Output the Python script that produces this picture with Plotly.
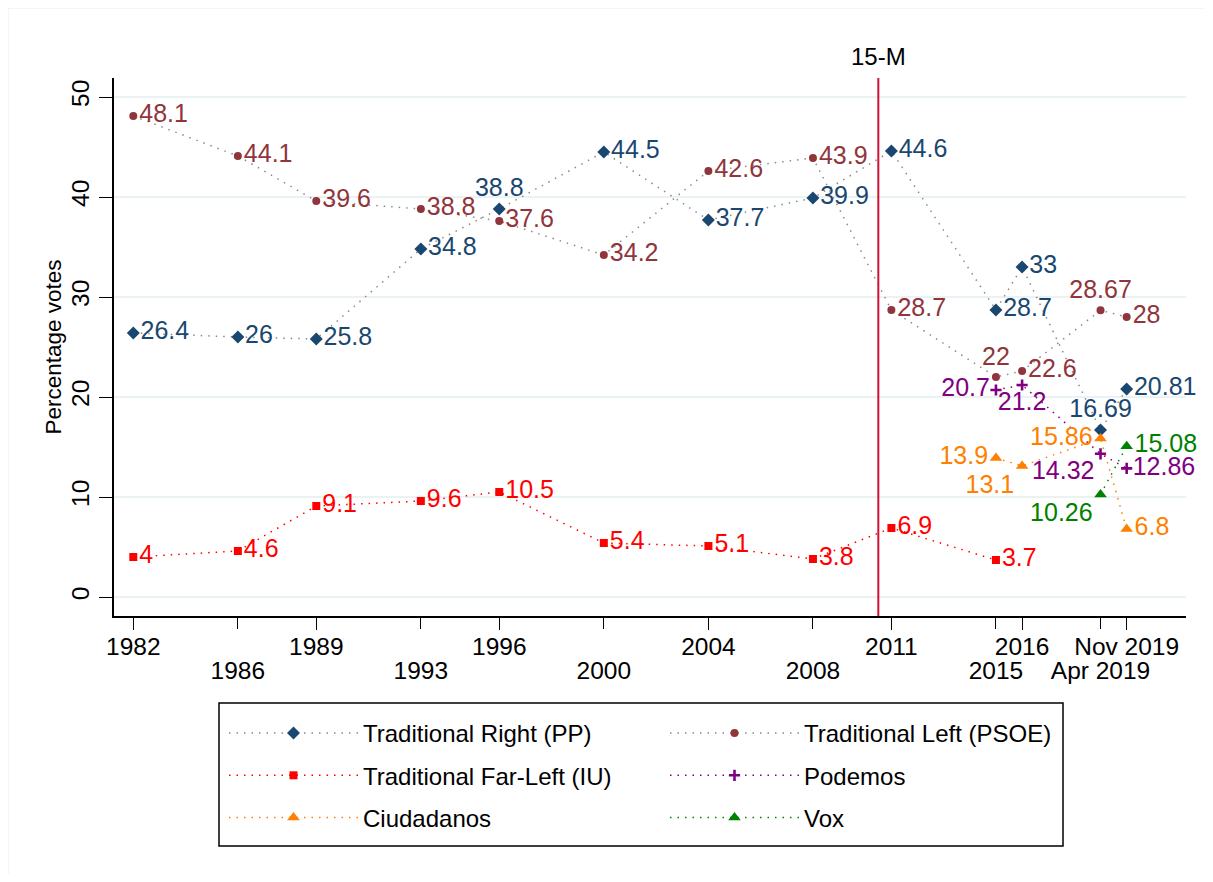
import plotly.graph_objects as go

# ---------------- data ----------------
years_all = [1982, 1986, 1989, 1993, 1996, 2000, 2004, 2008, 2011, 2015, 2016, 2019, 2020]
tick_upper_vals = [1982, 1989, 1996, 2004, 2011, 2016, 2020]
tick_upper_text = ["1982", "1989", "1996", "2004", "2011", "2016", "Nov 2019"]
tick_lower_vals = [1986, 1993, 2000, 2008, 2015, 2019]
tick_lower_text = ["1986", "1993", "2000", "2008", "2015", "Apr 2019"]

pp_years = years_all
pp_vals = [26.4, 26, 25.8, 34.8, 38.8, 44.5, 37.7, 39.9, 44.6, 28.7, 33, 16.69, 20.81]
pp_pos = ["middle right"] * 4 + ["top center"] + ["middle right"] * 6 + ["top center", "middle right"]

psoe_years = years_all
psoe_vals = [48.1, 44.1, 39.6, 38.8, 37.6, 34.2, 42.6, 43.9, 28.7, 22, 22.6, 28.67, 28]
psoe_pos = ["middle right"] * 9 + ["top center", "middle right", "top center", "middle right"]

iu_years = [1982, 1986, 1989, 1993, 1996, 2000, 2004, 2008, 2011, 2015]
iu_vals = [4, 4.6, 9.1, 9.6, 10.5, 5.4, 5.1, 3.8, 6.9, 3.7]
iu_pos = ["middle right"] * 10

pod_years = [2015, 2016, 2019, 2020]
pod_vals = [20.7, 21.2, 14.32, 12.86]
pod_pos = ["middle left", "bottom center", "bottom left", "middle right"]

cs_years = [2015, 2016, 2019, 2020]
cs_vals = [13.9, 13.1, 15.86, 6.8]
cs_pos = ["middle left", "bottom left", "middle left", "middle right"]

vox_years = [2019, 2020]
vox_vals = [10.26, 15.08]
vox_pos = ["bottom left", "middle right"]

event_x = 2010.5
event_label = "15-M"

# ---------------- style ----------------
FONT = "Liberation Sans, Arial, sans-serif"
C_PP = "#1a476f"
C_PSOE = "#90353b"
C_IU = "#ff0000"
C_POD = "#800080"
C_CS = "#ff7f00"
C_VOX = "#008000"
C_GREY = "#8a8a8a"
LBL = 25
TICK = 24.5
LEG = 24
DOT = "1.5px,6px"

XR = [1981.262, 2022.27]
YR = [-1.9, 51.9]

fig = go.Figure()


def add_series(name, xs, ys, pos, color, linecolor, symbol, size, legend, xaxis="x", mline=None):
    marker = dict(color=color, symbol=symbol, size=size)
    if mline:
        marker["line"] = mline
    fig.add_trace(go.Scatter(
        x=xs, y=ys, name=name, mode="lines+markers+text",
        text=[str(v) for v in ys], textposition=pos,
        textfont=dict(family=FONT, size=LBL, color=color),
        line=dict(color=linecolor, dash=DOT, width=1.5),
        marker=marker, legend=legend, legendgroup=name, xaxis=xaxis,
        cliponaxis=False,
    ))


add_series("Traditional Right (PP)", pp_years, pp_vals, pp_pos, C_PP, C_GREY, "diamond", 10, "legend")
add_series("Traditional Left (PSOE)", psoe_years, psoe_vals, psoe_pos, C_PSOE, C_GREY, "circle", 8, "legend2")
add_series("Traditional Far-Left (IU)", iu_years, iu_vals, iu_pos, C_IU, C_IU, "square", 8, "legend")
add_series("Podemos", pod_years, pod_vals, pod_pos, C_POD, C_POD, "cross-thin", 8, "legend2",
           mline=dict(color=C_POD, width=2.6))
add_series("Ciudadanos", cs_years, cs_vals, cs_pos, C_CS, C_CS, "triangle-up", 11, "legend")
add_series("Vox", vox_years, vox_vals, vox_pos, C_VOX, C_VOX, "triangle-up", 11, "legend2", xaxis="x2")

# event line
fig.add_shape(type="line", xref="x", yref="paper", x0=event_x, x1=event_x, y0=0, y1=1,
              line=dict(color="#d01236", width=2))
fig.add_annotation(x=event_x, xref="x", y=1, yref="paper", text=event_label, showarrow=False,
                   yanchor="bottom", yshift=6, font=dict(family=FONT, size=LBL - 1, color="black"))

# plot area: figure px (after 8px page offset) left 106, right 1178, top 70, bottom 608
PW = 1072.0
PH = 538.0


def px_x(p):
    return (p - 8 - 106) / PW


def px_y(p):
    return (608 - (p - 8)) / PH


# legend box
fig.add_shape(type="rect", xref="paper", yref="paper", x0=px_x(219), x1=px_x(1063),
              y0=px_y(703), y1=px_y(846),
              line=dict(color="black", width=1.5), fillcolor="rgba(0,0,0,0)")
# faint outer frame
fig.add_shape(type="rect", xref="paper", yref="paper", x0=px_x(8), x1=px_x(1230),
              y0=px_y(8), y1=px_y(900),
              line=dict(color="#e8eced", width=1), fillcolor="rgba(0,0,0,0)", layer="below")

axis_common = dict(range=XR, showgrid=False, zeroline=False, ticks="outside", ticklen=12,
                   tickcolor="black", tickwidth=1.2,
                   tickfont=dict(family=FONT, size=TICK, color="black"))

fig.update_layout(
    width=1197, height=866,
    margin=dict(l=106, r=19, t=70, b=258),
    paper_bgcolor="white", plot_bgcolor="white",
    font=dict(family=FONT, color="black"),
    xaxis=dict(**axis_common, tickvals=tick_upper_vals, ticktext=tick_upper_text,
               showline=True, linecolor="black", linewidth=1.5, ticklabelstandoff=-4),
    xaxis2=dict(**axis_common, tickvals=tick_lower_vals, ticktext=tick_lower_text,
                overlaying="x", anchor="y", side="bottom", showline=False,
                ticklabelstandoff=21),
    yaxis=dict(range=YR, tickvals=[0, 10, 20, 30, 40, 50], showgrid=True,
               gridcolor="#eaf2f3", gridwidth=2, zeroline=False,
               showline=True, linecolor="black", linewidth=1.5,
               ticks="outside", ticklen=13, tickcolor="black", tickwidth=1.2,
               tickangle=-90, tickfont=dict(family=FONT, size=TICK, color="black"),
               title=dict(text="Percentage votes", font=dict(family=FONT, size=22.5, color="black"),
                          standoff=0)),
    legend=dict(x=px_x(224), y=px_y(711), xanchor="left", yanchor="top", orientation="v",
                font=dict(family=FONT, size=LEG, color="black"), itemwidth=129,
                tracegroupgap=8, bgcolor="rgba(0,0,0,0)", borderwidth=0),
    legend2=dict(x=px_x(665), y=px_y(711), xanchor="left", yanchor="top", orientation="v",
                 font=dict(family=FONT, size=LEG, color="black"), itemwidth=129,
                 tracegroupgap=8, bgcolor="rgba(0,0,0,0)", borderwidth=0),
    showlegend=True,
)

fig.write_html("out.html")
